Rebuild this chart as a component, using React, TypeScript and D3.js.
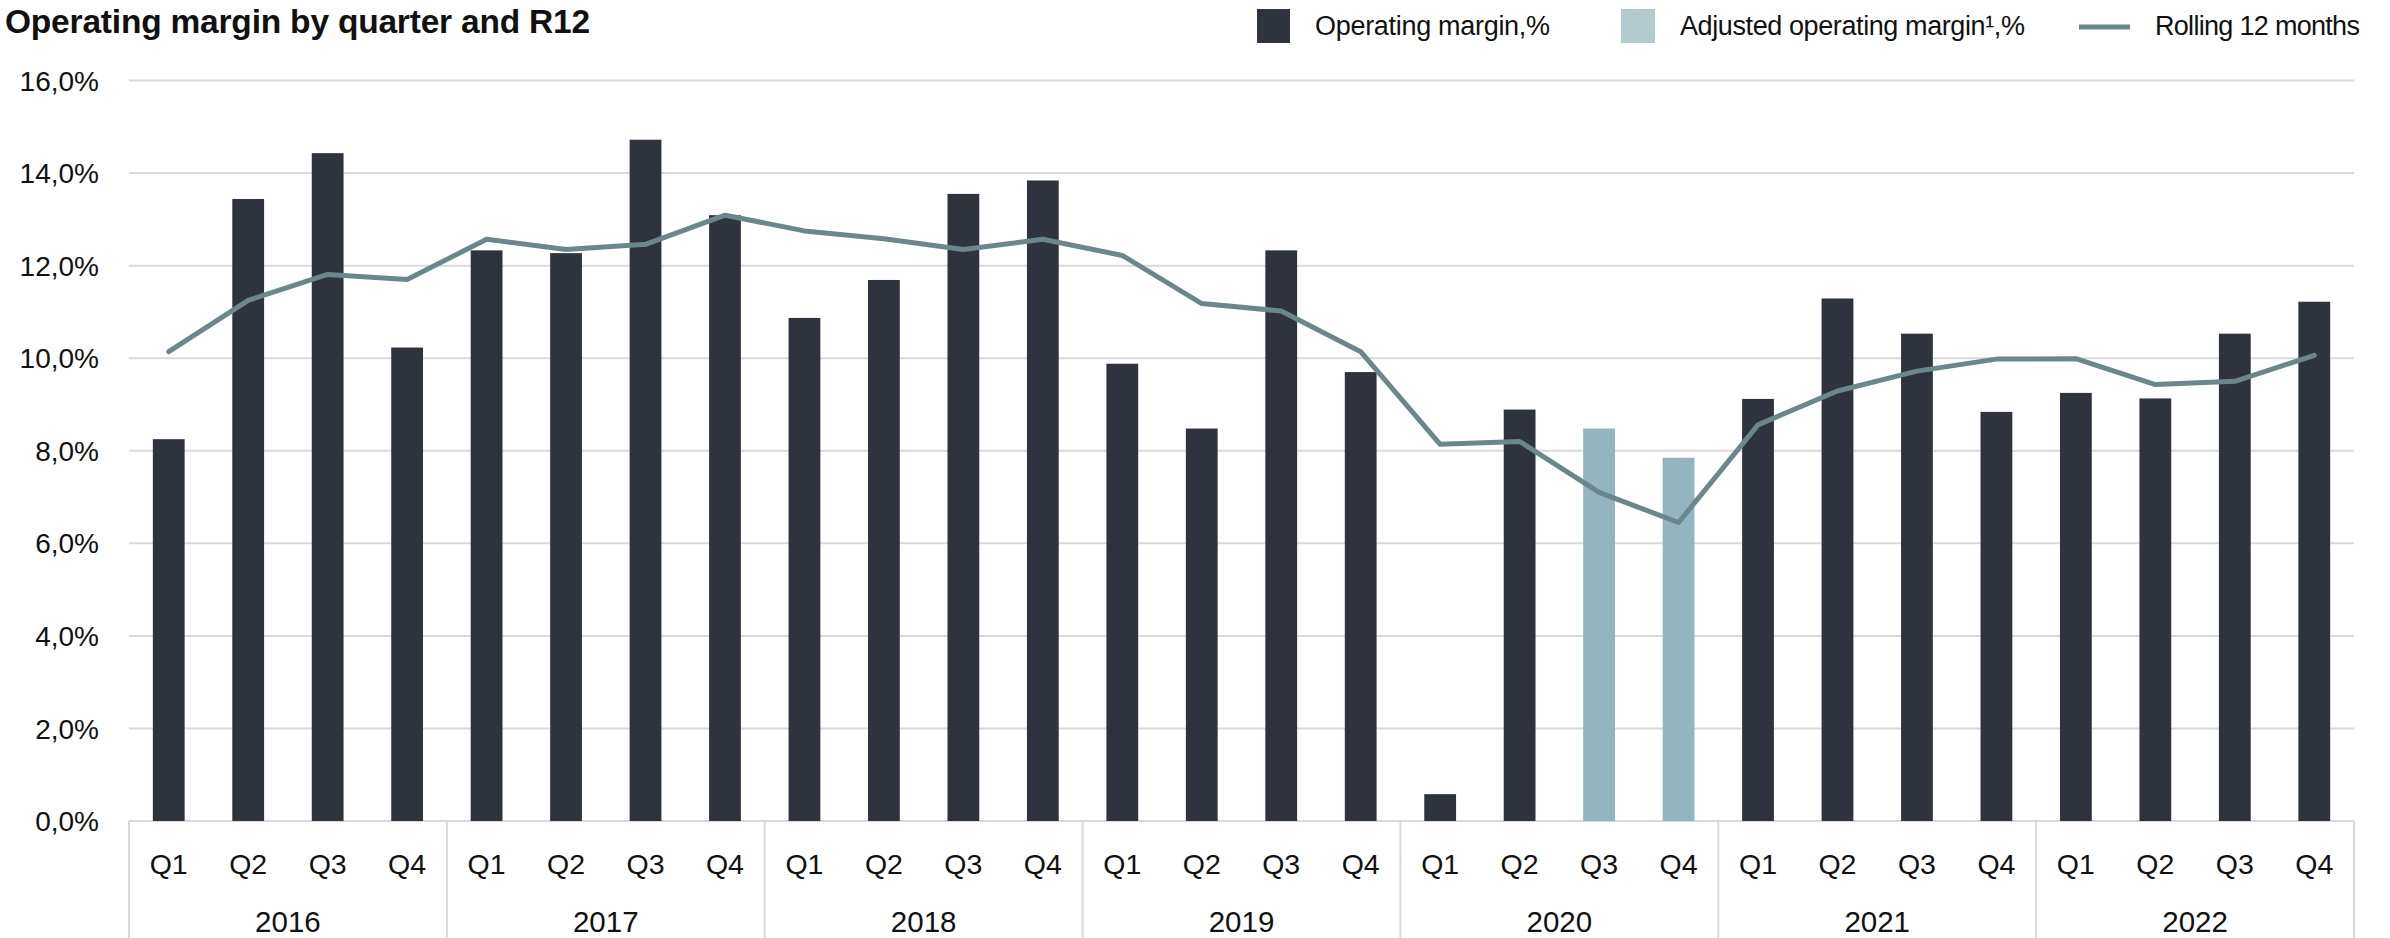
import React from "react";
import * as d3 from "d3";

const years = ["2016", "2017", "2018", "2019", "2020", "2021", "2022"];
const quarters = ["Q1", "Q2", "Q3", "Q4"];
const operatingMargin: (number | null)[] = [
  8.25, 13.44, 14.43, 10.23,
  12.33, 12.27, 14.72, 13.09,
  10.87, 11.69, 13.55, 13.84,
  9.88, 8.48, 12.33, 9.70,
  0.58, 8.89, null, null,
  9.12, 11.29, 10.53, 8.84,
  9.25, 9.13, 10.53, 11.22,
];
const adjustedMargin: (number | null)[] = [
  null, null, null, null,
  null, null, null, null,
  null, null, null, null,
  null, null, null, null,
  null, null, 8.48, 7.85,
  null, null, null, null,
  null, null, null, null,
];
const rolling12: number[] = [
  10.14, 11.25, 11.81, 11.70,
  12.57, 12.35, 12.46, 13.09,
  12.75, 12.58, 12.35, 12.57,
  12.22, 11.18, 11.02, 10.14,
  8.14, 8.20, 7.10, 6.45,
  8.56, 9.29, 9.72, 9.98,
  9.99, 9.43, 9.50, 10.06,
];
const yTicks = [0, 2, 4, 6, 8, 10, 12, 14, 16];
const legendLabels = ["Operating margin,%", "Adjusted operating margin¹,%", "Rolling 12 months"];
const title = "Operating margin by quarter and R12";

const W = 2390;
const H = 938;
const left = 129;
const right = 2354;
const top = 80.5;
const bottom = 821;

const DARK = "#2f333d";
const LIGHT = "#93b5bf";
const LIGHT_LEGEND = "#b3cbcf";
const LINE = "#6b878b";
const GRID = "#d9d9d9";
const FONT = "'Liberation Sans', Arial, sans-serif";

export default function App() {
  const keys = years.flatMap((y) => quarters.map((q) => `${y}-${q}`));
  const x = d3.scaleBand<string>().domain(keys).range([left, right]).paddingInner(0.6).paddingOuter(0.3);
  const xYear = d3.scaleBand<string>().domain(years).range([left, right]).padding(0);
  const y = d3.scaleLinear().domain([0, 16]).range([bottom, top]);
  const cx = (k: string) => (x(k) as number) + x.bandwidth() / 2;

  const line = d3
    .line<number>()
    .x((_, i) => cx(keys[i]))
    .y((d) => y(d));

  return (
    <svg
      width={W}
      height={H}
      style={{ position: "absolute", left: 0, top: 0, background: "#fff" }}
      fontFamily={FONT}
    >
      {/* title */}
      <text x={5} y={33} fontSize={33.5} fontWeight="bold" fill="#111" letterSpacing={-0.2}>
        {title}
      </text>

      {/* legend */}
      <rect x={1257} y={9} width={33} height={34} fill={DARK} />
      <text x={1315} y={35} fontSize={27} fill="#111" letterSpacing={-0.3}>
        {legendLabels[0]}
      </text>
      <rect x={1621} y={9} width={34} height={34} fill={LIGHT_LEGEND} />
      <text x={1680} y={35} fontSize={27} fill="#111" letterSpacing={-0.4}>
        {legendLabels[1]}
      </text>
      <line x1={2079} x2={2130} y1={27} y2={27} stroke={LINE} strokeWidth={5} />
      <text x={2155} y={35} fontSize={27} fill="#111" letterSpacing={-0.7}>
        {legendLabels[2]}
      </text>

      {/* grid */}
      {yTicks.map((t) => (
        <g key={t}>
          <line x1={left} x2={right} y1={y(t)} y2={y(t)} stroke={GRID} strokeWidth={2} />
          <text x={99} y={y(t)} dy="0.36em" textAnchor="end" fontSize={28} fill="#111">
            {t.toFixed(1).replace(".", ",") + "%"}
          </text>
        </g>
      ))}

      {/* year separators */}
      {years.map((yr) => (
        <line
          key={"sep" + yr}
          x1={xYear(yr) as number}
          x2={xYear(yr) as number}
          y1={bottom}
          y2={H}
          stroke={GRID}
          strokeWidth={2}
        />
      ))}
      <line x1={right} x2={right} y1={bottom} y2={H} stroke={GRID} strokeWidth={2} />

      {/* bars */}
      {keys.map((k, i) => {
        const v = operatingMargin[i];
        if (v == null) return null;
        return (
          <rect key={"b" + k} x={x(k)} y={y(v)} width={x.bandwidth()} height={y(0) - y(v)} fill={DARK} />
        );
      })}
      {keys.map((k, i) => {
        const v = adjustedMargin[i];
        if (v == null) return null;
        return (
          <rect key={"a" + k} x={x(k)} y={y(v)} width={x.bandwidth()} height={y(0) - y(v)} fill={LIGHT} />
        );
      })}

      {/* rolling line */}
      <path
        d={line(rolling12) || ""}
        fill="none"
        stroke={LINE}
        strokeWidth={5}
        strokeLinejoin="round"
        strokeLinecap="round"
      />

      {/* x labels */}
      {keys.map((k, i) => (
        <text key={"q" + k} x={cx(k)} y={874} textAnchor="middle" fontSize={28.5} fill="#111">
          {quarters[i % 4]}
        </text>
      ))}
      {years.map((yr) => (
        <text
          key={"y" + yr}
          x={(xYear(yr) as number) + xYear.bandwidth() / 2}
          y={932}
          textAnchor="middle"
          fontSize={29.5}
          fill="#111"
        >
          {yr}
        </text>
      ))}
    </svg>
  );
}
